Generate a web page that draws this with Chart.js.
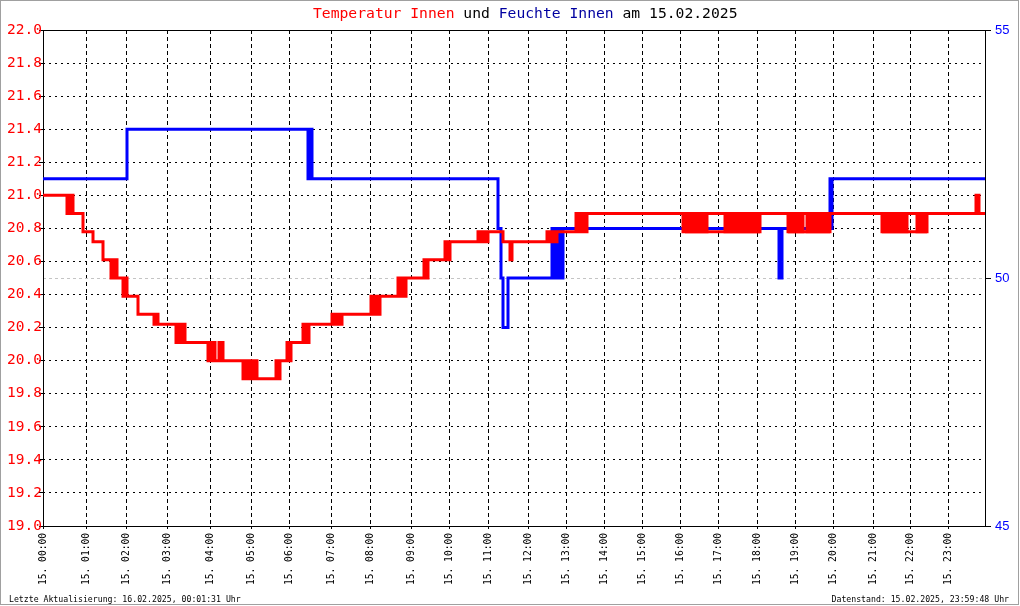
<!DOCTYPE html>
<html lang="de">
<head>
<meta charset="utf-8">
<title>Temperatur Innen und Feuchte Innen am 15.02.2025</title>
<script src="https://cdn.jsdelivr.net/npm/chart.js@4.4.1/dist/chart.umd.min.js"></script>
<style>
  html,body{margin:0;padding:0;background:#fff}
  #wrap{position:relative;width:1020px;height:606px;overflow:hidden}
  #box{position:absolute;left:0;top:0;width:1017px;height:603px;border:1px solid #a0a0a0;pointer-events:none}
  canvas{position:absolute;left:0;top:0}
  .mono{position:absolute;font-family:'DejaVu Sans Mono',monospace;white-space:pre;color:#000}
  #title{left:313px;top:4px;font-size:14.7px;line-height:18px}
  #footL{left:9px;top:593px;font-size:8.2px;line-height:12px}
  #footR{right:11px;top:593px;font-size:8.2px;line-height:12px}
</style>
</head>
<body>
<div id="wrap">
  <canvas id="klimaChart" width="1020" height="606"></canvas>
  <div id="title" class="mono"><span style="color:#ff0000">Temperatur Innen</span> und <span style="color:#0000a0">Feuchte Innen</span> am 15.02.2025</div>
  <div id="footL" class="mono">Letzte Aktualisierung: 16.02.2025, 00:01:31 Uhr</div>
  <div id="footR" class="mono">Datenstand: 15.02.2025, 23:59:48 Uhr</div>
  <div id="box"></div>
</div>
<script>
// ── Messwerte 15.02.2025 — x = laufende Messung (Index), Messungen sind nicht gleichmäßig über den Tag verteilt
const hourTicks  = [0,43,83,124,167,208,246,288,327,368,406,445,485,523,561,599,637,675,714,752,790,830,867,905];
const hourLabels = ['15. 00:00','15. 01:00','15. 02:00','15. 03:00','15. 04:00','15. 05:00','15. 06:00','15. 07:00',
                    '15. 08:00','15. 09:00','15. 10:00','15. 11:00','15. 12:00','15. 13:00','15. 14:00','15. 15:00',
                    '15. 16:00','15. 17:00','15. 18:00','15. 19:00','15. 20:00','15. 21:00','15. 22:00','15. 23:00'];
const lastIndex  = 942;

// Temperatur Innen [Messung, °C] — Wert gilt ab dieser Messung
const tempInnen = [
  [0,21.0],
  [24,20.89],[25,21.0],[26,20.89],[27,21.0],[28,20.89],[29,21.0],[30,20.89],
  [40,20.78],[50,20.72],[60,20.61],
  [68,20.5],[69,20.61],[70,20.5],[71,20.61],[72,20.5],[73,20.61],[74,20.5],
  [80,20.39],[81,20.5],[82,20.39],[83,20.5],[84,20.39],
  [95,20.28],
  [111,20.22],[112,20.28],[113,20.22],[114,20.28],[115,20.22],
  [133,20.11],[134,20.22],[136,20.11],[137,20.22],[138,20.11],[139,20.22],[140,20.11],[141,20.22],[142,20.11],
  [165,20.0],[166,20.11],[167,20.0],[168,20.11],[169,20.0],[171,20.11],[172,20.0],[176,20.11],[177,20.0],[179,20.11],[180,20.0],
  [200,19.89],[201,20.0],[203,19.89],[205,20.0],[206,19.89],[207,20.0],[208,19.89],[209,20.0],[210,19.89],[211,20.0],[212,19.89],[213,20.0],[214,19.89],
  [233,20.0],[234,19.89],[235,20.0],[236,19.89],[237,20.0],
  [244,20.11],[245,20.0],[246,20.11],[247,20.0],[248,20.11],
  [260,20.22],[261,20.11],[262,20.22],[263,20.11],[264,20.22],[265,20.11],[266,20.22],
  [289,20.28],[290,20.22],[291,20.28],[292,20.22],[293,20.28],[295,20.22],[296,20.28],[298,20.22],[299,20.28],
  [328,20.39],[329,20.28],[330,20.39],[331,20.28],[332,20.39],[333,20.28],[334,20.39],[335,20.28],[337,20.39],
  [355,20.5],[356,20.39],[358,20.5],[359,20.39],[361,20.5],[362,20.39],[363,20.5],
  [381,20.61],[382,20.5],[383,20.61],[384,20.5],[385,20.61],
  [402,20.72],[403,20.61],[404,20.72],[405,20.61],[407,20.72],
  [435,20.78],[436,20.72],[437,20.78],[438,20.72],[439,20.78],[440,20.72],[441,20.78],[442,20.72],[443,20.78],[444,20.72],[445,20.78],
  [460,20.72],[467,20.61],[469,20.72],
  [504,20.78],[505,20.72],[506,20.78],[507,20.72],[508,20.78],[509,20.72],[510,20.78],[511,20.72],[512,20.78],[513,20.72],[514,20.78],
  [533,20.89],[534,20.78],[535,20.89],[536,20.78],[537,20.89],[538,20.78],[539,20.89],[540,20.78],[541,20.89],[542,20.78],[544,20.89],
  [640,20.78],[641,20.89],[642,20.78],[643,20.89],[644,20.78],[645,20.89],[647,20.78],[648,20.89],[649,20.78],[650,20.89],[651,20.78],[652,20.89],[653,20.78],[654,20.89],
  [657,20.78],[659,20.89],[662,20.78],[664,20.89],
  [682,20.78],[683,20.89],[684,20.78],[686,20.89],[687,20.78],[688,20.89],[690,20.78],[691,20.89],[692,20.78],[693,20.89],[695,20.78],[696,20.89],[697,20.78],[699,20.89],[700,20.78],[701,20.89],[702,20.78],[704,20.89],
  [705,20.78],[707,20.89],[708,20.78],[709,20.89],
  [710,20.78],[711,20.89],[712,20.78],[713,20.89],[715,20.78],[717,20.89],
  [745,20.78],[746,20.89],[747,20.78],[749,20.89],[750,20.78],[751,20.89],[753,20.78],[754,20.89],[755,20.78],[757,20.89],[758,20.78],[760,20.89],
  [764,20.78],[765,20.89],[767,20.78],[770,20.89],
  [772,20.78],[775,20.89],
  [777,20.78],[778,20.89],[779,20.78],[781,20.89],[782,20.78],[784,20.89],[785,20.78],[787,20.89],
  [839,20.78],[840,20.89],[842,20.78],[843,20.89],[846,20.78],[847,20.89],[849,20.78],[850,20.89],[851,20.78],[853,20.89],[854,20.78],[855,20.89],[857,20.78],[858,20.89],[860,20.78],[861,20.89],[863,20.78],[864,20.89],
  [874,20.78],[876,20.89],[877,20.78],[879,20.89],[880,20.78],[882,20.89],[883,20.78],[884,20.89],
  [933,21.0],[936,20.89],[942,20.89]
];
// doppelt gemeldete Werte (zweiter Sensorwert liegt parallel auf 20.78) [von, bis]
const tempDoppelWert = 20.78;
const tempDoppel = [[642,717],[745,787],[839,884]];

// Feuchte Innen [Messung, %]
const feuchteInnen = [
  [0,52],[84,53],
  [265,52],[266,53],[267,52],[268,53],[269,52],
  [455,51],[458,50],[460,49],[465,50],
  [509,51],[511,50],[514,51],[515,50],[516,51],[517,50],[518,51],[519,50],[520,51],
  [736,50],[739,51],
  [787,52],[788,51],[789,52],[942,52]
];

const RED='#ff0000', BLUE='#0000ff', BLACK='#000000';
const MONO='DejaVu Sans Mono';
const toXY = arr => arr.map(([x,y])=>({x,y}));
const doppelPts = [];
tempDoppel.forEach(([a,b])=>{ doppelPts.push({x:a,y:tempDoppelWert},{x:b,y:tempDoppelWert},{x:b,y:null}); });

// Rahmen um den Plotbereich (durchgezogen)
const frame = {id:'frame',beforeDatasetsDraw(c){
  const {ctx,chartArea:a}=c;
  ctx.save();ctx.strokeStyle=BLACK;ctx.lineWidth=1;
  ctx.strokeRect(a.left+0.5,a.top+0.5,a.right-a.left,a.bottom-a.top);
  ctx.restore();
}};

const lineDs = (label,data,axis,col)=>({label,data,yAxisID:axis,borderColor:col,backgroundColor:col,
  borderWidth:3,stepped:true,pointRadius:0,fill:false,tension:0,spanGaps:false,borderCapStyle:'butt',borderJoinStyle:'miter'});

new Chart(document.getElementById('klimaChart'),{
  type:'line',
  data:{datasets:[
    lineDs('Temperatur Innen',toXY(tempInnen),'yT',RED),
    lineDs('Temperatur Innen (2)',doppelPts,'yT',RED),
    lineDs('Feuchte Innen',toXY(feuchteInnen),'yF',BLUE)
  ]},
  options:{
    responsive:false,animation:false,devicePixelRatio:1,
    layout:{padding:{top:30,left:0,right:0,bottom:0}},
    plugins:{legend:{display:false},tooltip:{enabled:false},title:{display:false}},
    scales:{
      x:{type:'linear',min:0,max:lastIndex,
        afterBuildTicks:s=>{s.ticks=hourTicks.map(v=>({value:v}));},
        afterFit:s=>{s.height=80;},
        grid:{color:BLACK,lineWidth:1,tickLength:3,tickBorderDash:[],tickColor:BLACK},
        border:{display:false,dash:[4,3]},
        ticks:{autoSkip:false,minRotation:90,maxRotation:90,padding:4,color:BLACK,
          font:{family:MONO,size:9.6},callback:(v,i)=>hourLabels[i]}},
      yT:{position:'left',min:19,max:22,
        afterFit:s=>{s.width=43;},
        grid:{color:BLACK,lineWidth:1,tickLength:4,tickBorderDash:[],tickColor:BLACK},
        border:{display:false,dash:[2,4]},
        ticks:{stepSize:0.2,padding:-3,color:RED,font:{family:MONO,size:14.5},callback:v=>v.toFixed(1)}},
      yF:{position:'right',min:45,max:55,
        afterFit:s=>{s.width=35;},
        grid:{color:c=>(c.tick&&c.tick.value===50)?'#c4c4c4':'rgba(0,0,0,0)',lineWidth:1,tickLength:6,tickBorderDash:[],tickColor:BLACK},
        border:{display:false,dash:[3,3]},
        ticks:{stepSize:5,padding:4,color:BLUE,font:{family:'Liberation Sans',size:13}}}
    }
  },
  plugins:[frame]
});
</script>
</body>
</html>
